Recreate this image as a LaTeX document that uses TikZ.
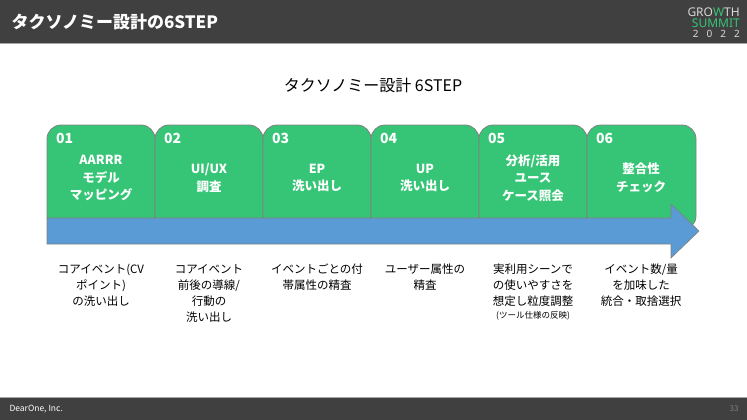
\documentclass[tikz,border=0pt]{standalone}
\usepackage{fontspec}
\setmainfont{Noto Sans CJK JP}
\newfontfamily\logofont{Noto Sans}
\usepackage{xcolor}
\usetikzlibrary{positioning,calc}

\definecolor{headgray}{HTML}{404040}
\definecolor{linegray}{HTML}{A6A6A6}
\definecolor{tabgreen}{HTML}{36C576}
\definecolor{arrowblue}{HTML}{5B9BD5}

\tikzset{
  tabbox/.style={draw=gray, fill=tabgreen, line width=0.8pt, rounded corners=14pt},
  tabnum/.style={anchor=west, inner sep=0pt, text=white, font=\bfseries\fontsize{14}{16}\selectfont},
  tablabel/.style={align=center, inner sep=0pt, text=white, font=\bfseries\fontsize{12.5}{17.5}\selectfont},
  note/.style={anchor=north, align=center, inner sep=0pt, font=\fontsize{11.5}{16}\selectfont}
}

\begin{document}
\begin{tikzpicture}[x=1pt, y=-1pt]
    \useasboundingbox (0,0) rectangle (747,420);

    % Header bar
    \fill [headgray] (0,0) rectangle (747,43);
    \draw [linegray, line width=1.5pt] (0,43.5) -- (747,43.5);
    \node (head) [anchor=west, text=white, font=\bfseries\fontsize{17}{20}\selectfont] at (8,22) {タクソノミー設計の6STEP};

    % Logo
    \node (logo1) [anchor=east, inner sep=0pt, text=white!85!black, font=\logofont\fontsize{12}{13}\selectfont] at (740,12) {GRO{\color{tabgreen}W}TH};
    \node (logo2) [anchor=east, inner sep=0pt, text=tabgreen, font=\logofont\bfseries\fontsize{12}{13}\selectfont] at (740,23) {SUMMIT};
    \node (logo3) [anchor=east, inner sep=0pt, text=white!85!black, font=\logofont\fontsize{10}{12}\selectfont] at (740,34) {2\hspace{8pt}0\hspace{8pt}2\hspace{8pt}2};

    % Title
    \node (title) [font=\fontsize{16}{19}\selectfont] at (373,85) {タクソノミー設計 6STEP};

    % Tabs
    \draw [tabbox] (47,125) rectangle (155,230);
    \draw [tabbox] (155,125) rectangle (263,230);
    \draw [tabbox] (263,125) rectangle (371,230);
    \draw [tabbox] (371,125) rectangle (479,230);
    \draw [tabbox] (479,125) rectangle (587,230);
    \draw [tabbox] (587,125) rectangle (696,230);

    % Arrow
    \draw [gray, fill=arrowblue, line width=0.6pt] (47,218) -- (671,218) -- (671,204) -- (699,231)
        -- (671,258) -- (671,244) -- (47,244) -- cycle;

    % Step numbers
    \node (num1) [tabnum] at (56,138) {01};
    \node (num2) [tabnum] at (164,138) {02};
    \node (num3) [tabnum] at (272,138) {03};
    \node (num4) [tabnum] at (380,138) {04};
    \node (num5) [tabnum] at (488,138) {05};
    \node (num6) [tabnum] at (596,138) {06};

    % Step labels
    \node (lab1) [tablabel] at (101,178) {AARRR\\モデル\\マッピング};
    \node (lab2) [tablabel] at (209,178) {UI/UX\\調査};
    \node (lab3) [tablabel] at (317,178) {EP\\洗い出し};
    \node (lab4) [tablabel] at (425,178) {UP\\洗い出し};
    \node (lab5) [tablabel] at (533,178) {分析/活用\\ユース\\ケース照会};
    \node (lab6) [tablabel] at (641,178) {整合性\\チェック};

    % Notes
    \node (note1) [note] at (101,264) {コアイベント(CV\\ポイント)\\の洗い出し};
    \node (note2) [note] at (209,264) {コアイベント\\前後の導線/\\行動の\\洗い出し};
    \node (note3) [note] at (317,264) {イベントごとの付\\帯属性の精査};
    \node (note4) [note] at (425,264) {ユーザー属性の\\精査};
    \node (note5) [note] at (533,264) {実利用シーンで\\の使いやすさを\\想定し粒度調整\\[-3pt]{\fontsize{8.5}{10}\selectfont (ツール仕様の反映)}};
    \node (note6) [note] at (641,264) {イベント数/量\\を加味した\\統合・取捨選択};

    % Footer bar
    \fill [headgray] (0,397) rectangle (747,420);
    \draw [linegray, line width=1pt] (0,397) -- (747,397);
    \node (footer) [anchor=west, text=white, font=\fontsize{8.5}{10}\selectfont] at (6,409) {DearOne, Inc.};
    \node (page) [anchor=east, text=gray, font=\fontsize{8}{10}\selectfont] at (742,409) {33};
\end{tikzpicture}
\end{document}
